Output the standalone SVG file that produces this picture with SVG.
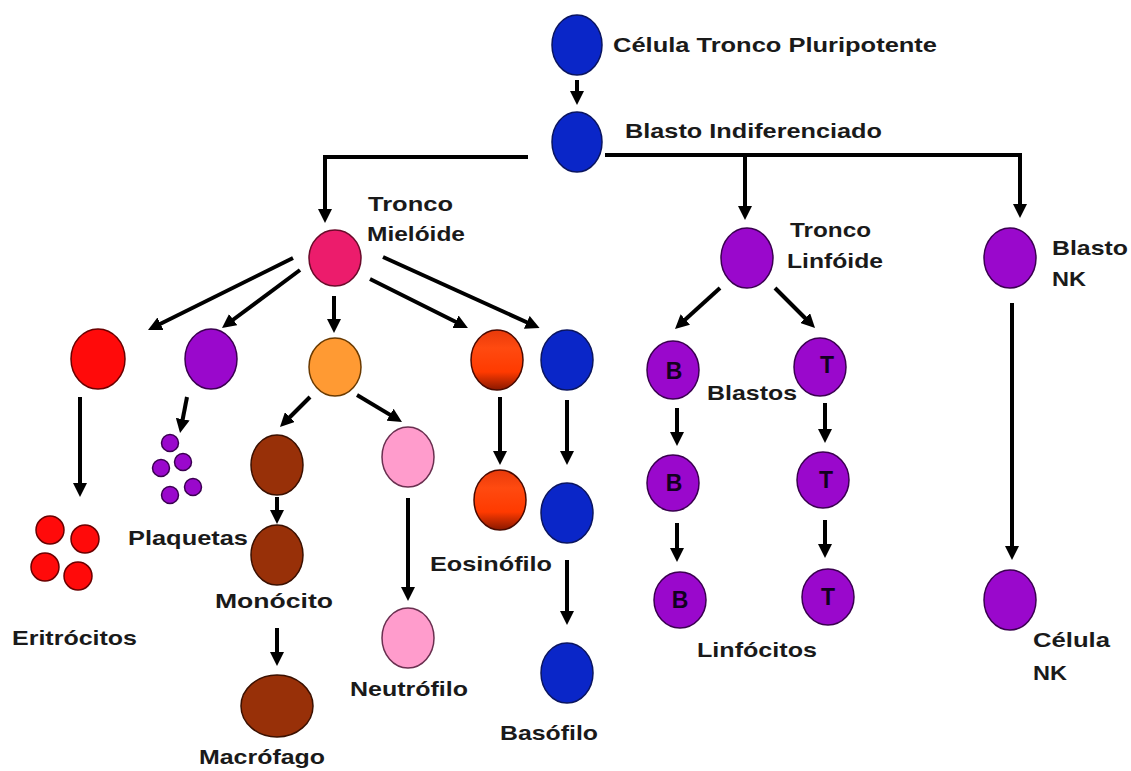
<svg xmlns="http://www.w3.org/2000/svg" width="1131" height="771" viewBox="0 0 1131 771">
<defs>
<style>
.t{font-family:"Liberation Sans",Arial,sans-serif;font-weight:bold;font-size:21px;fill:#1a1a1a}
.l{font-family:"Liberation Sans",Arial,sans-serif;font-weight:bold;font-size:23px;fill:#120020;text-anchor:middle}
.c{fill:none;stroke:#000;stroke-width:4}
.blue{fill:#0a26c8;stroke:#0a1560;stroke-width:1.5}
.mag{fill:#ec1c6c;stroke:#6a0a2a;stroke-width:1.5}
.red{fill:#ff0a0a;stroke:#6a0000;stroke-width:1.5}
.pur{fill:#9a08cc;stroke:#3a0050;stroke-width:1.5}
.org{fill:#ff9a33;stroke:#6a3a00;stroke-width:1.5}
.eos{fill:url(#eg);stroke:#4a0a00;stroke-width:1.5}
.brn{fill:#983008;stroke:#3a1000;stroke-width:1.5}
.pnk{fill:#ff9ccc;stroke:#6a3050;stroke-width:1.5}
</style>
<linearGradient id="eg" x1="0" y1="0" x2="0" y2="1">
<stop offset="0" stop-color="#e83a0a"/>
<stop offset="0.3" stop-color="#ff4a10"/>
<stop offset="0.7" stop-color="#ff3a00"/>
<stop offset="1" stop-color="#8a1800"/>
</linearGradient>
<marker id="ah" markerWidth="14" markerHeight="14" refX="9" refY="7" orient="auto" markerUnits="userSpaceOnUse">
<path d="M0,0 L14,7 L0,14 Z" fill="#000"/>
</marker>
</defs>
<rect width="1131" height="771" fill="#fff"/>
<g id="connectors">
<line class="c" x1="577" y1="80" x2="577" y2="100" stroke-width="3" marker-end="url(#ah)"/>
<path class="c" d="M528,157 H325 V218" marker-end="url(#ah)"/>
<path class="c" d="M605,155 H1020 V213" marker-end="url(#ah)"/>
<line class="c" x1="745" y1="155" x2="745" y2="215" marker-end="url(#ah)"/>
<line class="c" x1="293" y1="258" x2="152.5" y2="327.8" marker-end="url(#ah)"/>
<line class="c" x1="300" y1="270" x2="226" y2="325" marker-end="url(#ah)"/>
<line class="c" x1="334" y1="296" x2="334" y2="328" marker-end="url(#ah)"/>
<line class="c" x1="370" y1="279" x2="463.5" y2="325.8" marker-end="url(#ah)"/>
<line class="c" x1="383" y1="257" x2="535" y2="326" marker-end="url(#ah)"/>
<line class="c" x1="80" y1="397" x2="80" y2="492" marker-end="url(#ah)"/>
<line class="c" x1="187" y1="397" x2="181" y2="428" marker-end="url(#ah)"/>
<line class="c" x1="310" y1="397" x2="283.5" y2="423.5" marker-end="url(#ah)"/>
<line class="c" x1="357" y1="395" x2="397.7" y2="419.4" marker-end="url(#ah)"/>
<line class="c" x1="277" y1="497" x2="277" y2="519" marker-end="url(#ah)"/>
<line class="c" x1="277" y1="628" x2="277" y2="661" marker-end="url(#ah)"/>
<line class="c" x1="408" y1="498" x2="408" y2="596" marker-end="url(#ah)"/>
<line class="c" x1="500" y1="397" x2="500" y2="460" marker-end="url(#ah)"/>
<line class="c" x1="567" y1="400" x2="567" y2="460" marker-end="url(#ah)"/>
<line class="c" x1="567" y1="560" x2="567" y2="620" marker-end="url(#ah)"/>
<line class="c" x1="720" y1="288" x2="678.7" y2="325.6" marker-end="url(#ah)"/>
<line class="c" x1="775" y1="288" x2="811.5" y2="324.5" marker-end="url(#ah)"/>
<line class="c" x1="677" y1="408" x2="677" y2="441" marker-end="url(#ah)"/>
<line class="c" x1="825" y1="403" x2="825" y2="438" marker-end="url(#ah)"/>
<line class="c" x1="677" y1="523" x2="677" y2="557" marker-end="url(#ah)"/>
<line class="c" x1="825" y1="520" x2="825" y2="553" marker-end="url(#ah)"/>
<line class="c" x1="1012" y1="303" x2="1012" y2="555" marker-end="url(#ah)"/>
</g>
<g id="pluripotente"><ellipse class="blue" cx="577" cy="45" rx="25" ry="30"/><text class="t" x="613" y="52" textLength="324" lengthAdjust="spacingAndGlyphs">Célula Tronco Pluripotente</text></g>
<g id="blasto-indiferenciado"><ellipse class="blue" cx="577" cy="142" rx="25" ry="30"/><text class="t" x="625" y="138" textLength="257" lengthAdjust="spacingAndGlyphs">Blasto Indiferenciado</text></g>
<g id="tronco-mieloide"><ellipse class="mag" cx="335" cy="258" rx="26" ry="28"/><text class="t" x="368" y="211" textLength="85" lengthAdjust="spacingAndGlyphs">Tronco</text><text class="t" x="367" y="241" textLength="98" lengthAdjust="spacingAndGlyphs">Mielóide</text></g>
<g id="tronco-linfoide"><ellipse class="pur" cx="747" cy="258" rx="26" ry="30"/><text class="t" x="790" y="237" textLength="81" lengthAdjust="spacingAndGlyphs">Tronco</text><text class="t" x="787" y="268" textLength="96" lengthAdjust="spacingAndGlyphs">Linfóide</text></g>
<g id="blasto-nk"><ellipse class="pur" cx="1010" cy="258" rx="26" ry="30"/><text class="t" x="1052" y="255" textLength="76" lengthAdjust="spacingAndGlyphs">Blasto</text><text class="t" x="1052" y="286" textLength="34" lengthAdjust="spacingAndGlyphs">NK</text></g>
<g id="eritroblasto"><ellipse class="red" cx="98" cy="359" rx="27" ry="30"/></g>
<g id="megacariocito"><ellipse class="pur" cx="211" cy="359" rx="26" ry="30"/></g>
<g id="mieloblasto"><ellipse class="org" cx="335" cy="367" rx="26" ry="29"/></g>
<g id="eos-precursor"><ellipse class="eos" cx="497" cy="360" rx="26" ry="30"/></g>
<g id="baso-precursor"><ellipse class="blue" cx="567" cy="360" rx="26" ry="30"/></g>
<g id="eritrocitos"><circle class="red" cx="50" cy="530" r="14"/><circle class="red" cx="85" cy="539" r="14"/><circle class="red" cx="45" cy="567" r="14"/><circle class="red" cx="78" cy="576" r="14"/><text class="t" x="12" y="645" textLength="125" lengthAdjust="spacingAndGlyphs">Eritrócitos</text></g>
<g id="plaquetas"><circle class="pur" cx="170" cy="443" r="8.5"/><circle class="pur" cx="161" cy="468" r="8.5"/><circle class="pur" cx="183" cy="462" r="8.5"/><circle class="pur" cx="170" cy="495" r="8.5"/><circle class="pur" cx="193" cy="487" r="8.5"/><text class="t" x="128" y="545" textLength="120" lengthAdjust="spacingAndGlyphs">Plaquetas</text></g>
<g id="monoblasto"><ellipse class="brn" cx="277" cy="465" rx="26" ry="30"/></g>
<g id="monocito"><ellipse class="brn" cx="277" cy="555" rx="26" ry="30"/><text class="t" x="215" y="608" textLength="118" lengthAdjust="spacingAndGlyphs">Monócito</text></g>
<g id="macrofago"><ellipse class="brn" cx="277" cy="706" rx="36" ry="31"/><text class="t" x="199" y="764" textLength="126" lengthAdjust="spacingAndGlyphs">Macrófago</text></g>
<g id="neutro-precursor"><ellipse class="pnk" cx="408" cy="457" rx="26" ry="30"/></g>
<g id="neutrofilo"><ellipse class="pnk" cx="408" cy="638" rx="26" ry="30"/><text class="t" x="350" y="696" textLength="118" lengthAdjust="spacingAndGlyphs">Neutrófilo</text></g>
<g id="eosinofilo"><ellipse class="eos" cx="500" cy="500" rx="26" ry="30"/><text class="t" x="430" y="571" textLength="122" lengthAdjust="spacingAndGlyphs">Eosinófilo</text></g>
<g id="baso-mid"><ellipse class="blue" cx="567" cy="513" rx="26" ry="30"/></g>
<g id="basofilo"><ellipse class="blue" cx="567" cy="673" rx="26" ry="30"/><text class="t" x="500" y="740" textLength="98" lengthAdjust="spacingAndGlyphs">Basófilo</text></g>
<g id="blasto-b"><ellipse class="pur" cx="673" cy="370" rx="26" ry="29"/><text class="l" x="674" y="379">B</text></g>
<g id="blasto-t"><ellipse class="pur" cx="820" cy="367" rx="26" ry="29"/><text class="l" x="827" y="373">T</text><text class="t" x="707" y="400" textLength="90" lengthAdjust="spacingAndGlyphs">Blastos</text></g>
<g id="b-mid"><ellipse class="pur" cx="673" cy="483" rx="26" ry="28"/><text class="l" x="674" y="491">B</text></g>
<g id="t-mid"><ellipse class="pur" cx="823" cy="480" rx="26" ry="28"/><text class="l" x="826" y="488">T</text></g>
<g id="linfocito-b"><ellipse class="pur" cx="680" cy="600" rx="26" ry="28"/><text class="l" x="680" y="608">B</text></g>
<g id="linfocito-t"><ellipse class="pur" cx="828" cy="597" rx="26" ry="28"/><text class="l" x="828" y="605">T</text><text class="t" x="697" y="657" textLength="120" lengthAdjust="spacingAndGlyphs">Linfócitos</text></g>
<g id="celula-nk"><ellipse class="pur" cx="1010" cy="600" rx="26" ry="30"/><text class="t" x="1033" y="647" textLength="77" lengthAdjust="spacingAndGlyphs">Célula</text><text class="t" x="1033" y="680" textLength="34" lengthAdjust="spacingAndGlyphs">NK</text></g>
</svg>
